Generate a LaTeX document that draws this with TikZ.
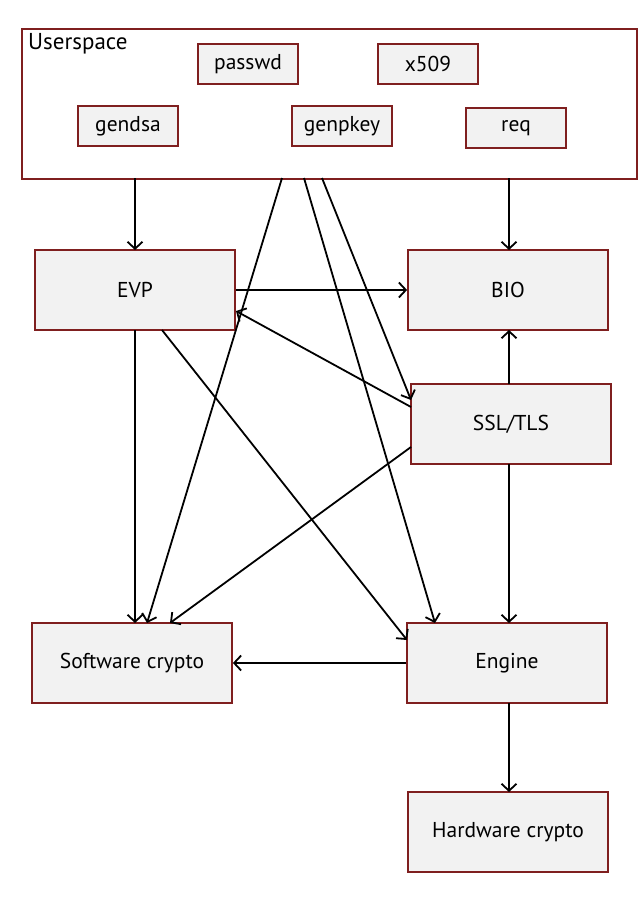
\documentclass[tikz,border=0pt]{standalone}
\usepackage{fontspec}
\setmainfont{PT Sans}
\usetikzlibrary{arrows.meta}
\definecolor{boxborder}{HTML}{7F1F1F}
\definecolor{boxfill}{HTML}{F2F2F2}
\tikzset{
  blk/.style={draw=boxborder, fill=boxfill, line width=1.8bp, minimum width=200bp, minimum height=80bp, inner sep=0pt, font=\fontsize{21.5bp}{24bp}\selectfont},
  sblk/.style={draw=boxborder, fill=boxfill, line width=1.8bp, minimum width=100bp, minimum height=40bp, inner sep=0pt, font=\fontsize{21.5bp}{24bp}\selectfont},
  conn/.style={draw=black, line width=1.8bp, -{Straight Barb[length=7bp, width=15bp, line width=1.8bp]}}
}
\begin{document}
\begin{tikzpicture}[x=1bp, y=-1bp]
\useasboundingbox (0,0) rectangle (638,898);
% Userspace container
\node[draw=boxborder, line width=1.8bp, minimum width=615bp, minimum height=150bp, inner sep=0pt, anchor=north west] (user) at (21,28) {};
\node[anchor=north west, inner sep=0pt, font=\fontsize{23bp}{26bp}\selectfont] (userlbl) at (28,33) {Userspace};
\node[sblk] (passwd) at (248,64) {passwd};
\node[sblk] (x509) at (428,64) {x509};
\node[sblk] (gendsa) at (128,126) {gendsa};
\node[sblk] (genpkey) at (342,126) {genpkey};
\node[sblk] (req) at (516,128) {req};
% main blocks
\node[blk] (evp) at (135,290) {EVP};
\node[blk] (bio) at (508,290) {BIO};
\node[blk] (ssl) at (511,424) {SSL/TLS};
\node[blk] (soft) at (132,663) {Software crypto};
\node[blk] (eng) at (507,663) {Engine};
\node[blk] (hw) at (508,832) {Hardware crypto};
% coordinates on box edges
\coordinate (u1) at (135,178);
\coordinate (u2) at (509,178);
\coordinate (u3) at (282,178);
\coordinate (u4) at (304,178);
\coordinate (u5) at (322,178);
\coordinate (evpt) at (135,250);
\coordinate (biot) at (509,250);
\coordinate (biob) at (509,330);
\coordinate (sslt) at (509,384);
\coordinate (sslb) at (509,464);
\coordinate (softt1) at (147,623);
\coordinate (softt2) at (170,623);
\coordinate (softt0) at (135,623);
\coordinate (engt1) at (435,623);
\coordinate (engt2) at (509,623);
\coordinate (engl1) at (407,640);
\coordinate (engb) at (509,703);
\coordinate (hwt) at (509,792);
\coordinate (sslt1) at (411,400);
\coordinate (ssll1) at (411,407);
\coordinate (ssll2) at (411,447);
\coordinate (evpr1) at (236,311);
\coordinate (evpb1) at (135,330);
\coordinate (evpb2) at (162,330);
% connectors
\draw[conn] (u1) -- (evpt);
\draw[conn] (u2) -- (biot);
\draw[conn] (u3) -- (softt1);
\draw[conn] (u4) -- (engt1);
\draw[conn] (u5) -- (sslt1);
\draw[conn] (evp.east) -- (bio.west);
\draw[conn] (ssll1) -- (evpr1);
\draw[conn] (ssll2) -- (softt2);
\draw[conn] (evpb1) -- (softt0);
\draw[conn] (evpb2) -- (engl1);
\draw[conn] (sslt) -- (biob);
\draw[conn] (sslb) -- (engt2);
\draw[conn] (eng.west) -- (soft.east);
\draw[conn] (engb) -- (hwt);
\end{tikzpicture}
\end{document}
